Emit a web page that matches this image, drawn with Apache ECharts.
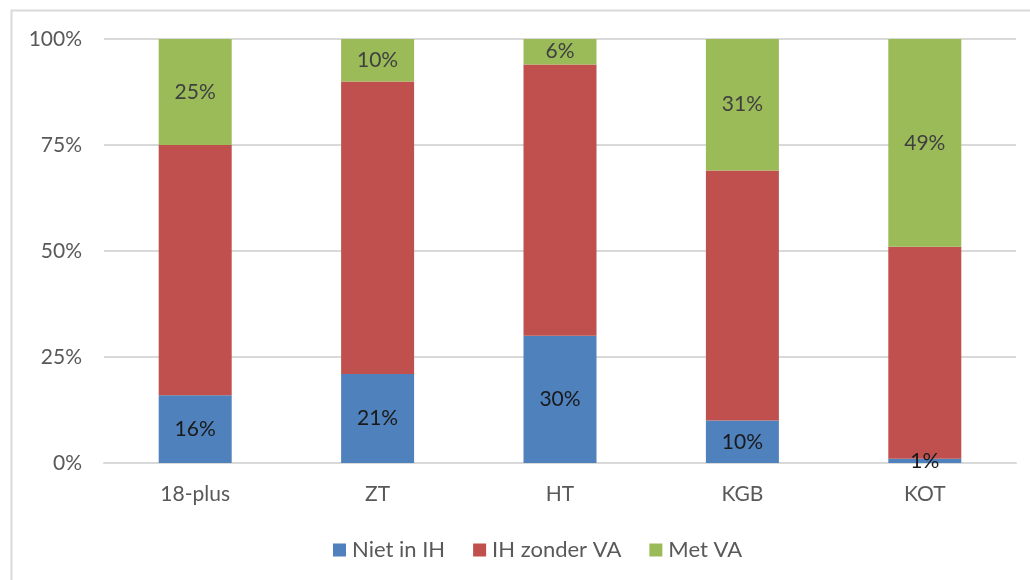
<!DOCTYPE html>
<html>
<head>
<meta charset="utf-8">
<script src="https://cdn.jsdelivr.net/npm/echarts@6/dist/echarts.min.js"></script>
<style>
html,body{margin:0;padding:0;background:#fff;}
#chart{width:1030px;height:580px;}
</style>
</head>
<body>
<div id="chart"></div>
<script>
const categories = ['18-plus', 'ZT', 'HT', 'KGB', 'KOT'];
const nietInIH = [16, 21, 30, 10, 1];
const ihZonderVA = [59, 69, 64, 59, 50];
const metVA = [25, 10, 6, 31, 49];
const yTicks = [0, 25, 50, 75, 100];

const FONT = 'Lato';
const chart = echarts.init(document.getElementById('chart'));

function labelCfg(color) {
  return {
    show: true,
    position: 'inside',
    formatter: p => p.value + '%',
    color: color,
    fontFamily: FONT,
    fontSize: 21
  };
}

chart.setOption({
  animation: false,
  backgroundColor: '#fff',
  textStyle: { fontFamily: FONT },
  graphic: [{
    type: 'rect',
    shape: { x: 11.5, y: 10.5, width: 1040, height: 600 },
    style: { fill: 'none', stroke: '#D9D9D9', lineWidth: 2 },
    silent: true
  }],
  grid: { left: 104, right: 14, top: 39, bottom: 117, containLabel: false },
  legend: {
    top: 534,
    left: 328,
    itemWidth: 13,
    itemHeight: 13,
    itemGap: 28,
    icon: 'rect',
    textStyle: { color: '#595959', fontSize: 22, fontFamily: FONT, padding: [0, 0, 0, 1] },
    data: ['Niet in IH', 'IH zonder VA', 'Met VA']
  },
  xAxis: {
    type: 'category',
    data: categories,
    axisLine: { lineStyle: { color: '#D9D9D9', width: 2 } },
    axisTick: { show: false },
    axisLabel: { color: '#595959', fontSize: 21, fontFamily: FONT, margin: 21 }
  },
  yAxis: {
    type: 'value',
    min: yTicks[0],
    max: yTicks[yTicks.length - 1],
    interval: 25,
    axisLine: { show: false },
    axisTick: { show: false },
    splitLine: { lineStyle: { color: '#D9D9D9', width: 2 } },
    axisLabel: { color: '#595959', fontSize: 21, fontFamily: FONT, margin: 22, formatter: v => v + '%' }
  },
  series: [
    {
      name: 'Niet in IH', type: 'bar', stack: 'a', data: nietInIH,
      barWidth: 73,
      itemStyle: { color: '#4F81BD' },
      label: labelCfg('#1a1a1a')
    },
    {
      name: 'IH zonder VA', type: 'bar', stack: 'a', data: ihZonderVA,
      barWidth: 73,
      itemStyle: { color: '#C0504D' },
      label: { show: false }
    },
    {
      name: 'Met VA', type: 'bar', stack: 'a', data: metVA,
      barWidth: 73,
      itemStyle: { color: '#9BBB59' },
      label: labelCfg('#404040')
    }
  ]
});
</script>
</body>
</html>
